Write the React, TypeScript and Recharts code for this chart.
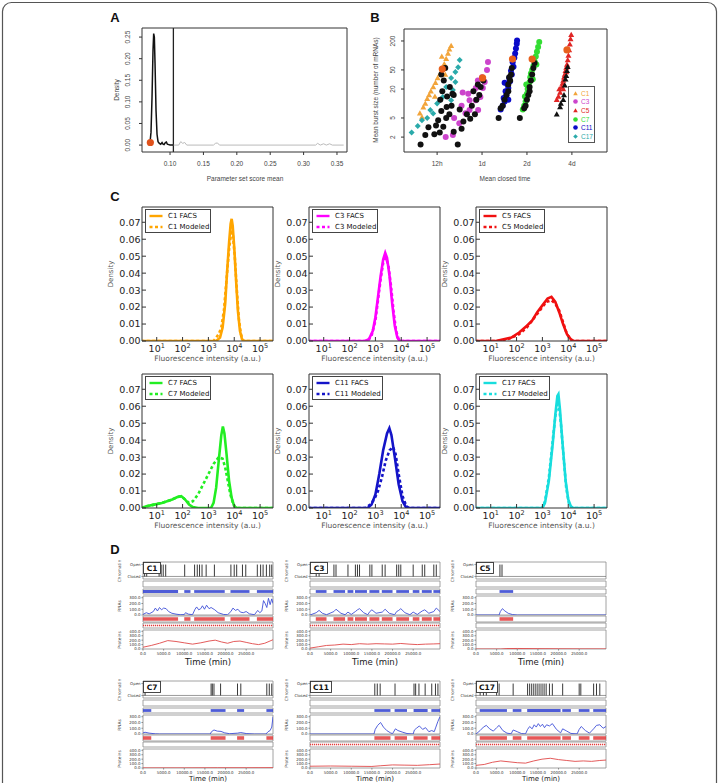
import React from "react";
import {
  ComposedChart,
  ScatterChart,
  Scatter,
  Line,
  XAxis,
  YAxis,
  ReferenceLine,
  ReferenceArea,
  ReferenceDot,
} from "recharts";

const SANS = "'Liberation Sans', Arial, Helvetica, sans-serif";
const DEJAVU = "'DejaVu Sans', sans-serif";

// ---------- panel A: parameter set score density
const scoreMain = [
  [0.068, 0.001], [0.07, 0.006], [0.0715, 0.03], [0.073, 0.11], [0.0745, 0.22],
  [0.0755, 0.258], [0.0765, 0.25], [0.0775, 0.19], [0.079, 0.08], [0.0805, 0.025],
  [0.082, 0.008], [0.084, 0.004], [0.086, 0.002], [0.088, 0.006], [0.0895, 0.002],
  [0.091, 0.001], [0.093, 0.006], [0.0945, 0.007], [0.096, 0.002], [0.098, 0.001],
  [0.1, 0], [0.105, 0],
];
const scoreTail = [
  [0.105, 0], [0.113, 0], [0.116, 0.008], [0.119, 0.004], [0.122, 0.006], [0.125, 0],
  [0.165, 0], [0.168, 0.004], [0.171, 0.005], [0.174, 0], [0.318, 0], [0.321, 0.004],
  [0.325, 0], [0.33, 0.003], [0.334, 0], [0.339, 0.003], [0.343, 0], [0.36, 0],
];
const scoreCutoff = 0.105;
const bestScore = [0.0705, 0.006];
const scoreTicks = [0.1, 0.15, 0.2, 0.25, 0.3, 0.35];
const scoreDensityTicks = [0, 0.05, 0.1, 0.15, 0.2, 0.25];

// ---------- panel B: mean closed time (hours) vs mean burst size
const bC1 = [[9.2, 6.3], [9.7, 8.4], [9.5, 5.2], [10, 10], [10.3, 12.5], [10.6, 15], [10.9, 18], [11.3, 22], [11.7, 27], [12.1, 34], [12.6, 42], [13, 52], [13.4, 66], [13.8, 85], [14.2, 110], [14.5, 135], [13.6, 40], [11.6, 14], [12.9, 95], [14.9, 160]];
const bC3 = [[13.7, 2], [15.3, 2.2], [15.6, 5], [16.9, 3.9], [18.6, 6.3], [19.8, 7.3], [17.8, 17], [19.4, 16], [21.8, 11.7], [21.8, 21], [22.6, 7.3], [23.4, 13.6], [24.3, 21], [25, 28], [25.9, 50], [26.3, 73], [24, 35], [19.8, 11.7], [17.5, 9], [22.5, 30]];
const bC5 = [[76, 12], [78, 14], [80, 17], [79, 20], [82, 22], [83, 26], [84, 30], [85, 35], [86, 40], [87, 48], [88, 56], [89, 65], [90, 80], [91, 100], [92, 130], [93, 170], [94, 220], [95, 270], [84, 20], [88, 45]];
const bC7 = [[45, 7.5], [46, 9], [47, 11], [46.5, 14], [48, 16], [48.5, 20], [49, 24], [50, 28], [50.5, 35], [51, 42], [52, 50], [53, 60], [54, 75], [55, 95], [56, 120], [57, 150], [58, 190], [47.5, 25], [52.5, 32], [55.5, 65]];
const bC11 = [[32, 7.5], [33, 9], [34, 11], [33.5, 13], [35, 15], [34.5, 18], [36, 21], [35.5, 25], [37, 29], [36.5, 34], [38, 40], [37.5, 48], [39, 58], [38.5, 72], [39.5, 90], [40, 110], [40.5, 140], [41, 175], [41.2, 205], [36, 12], [34, 27]];
const bC17 = [[8.1, 2.5], [8.9, 3.4], [9.5, 4.5], [10.3, 5], [10.8, 7.3], [12, 10], [12.6, 11.7], [13.1, 13.6], [14.9, 11.7], [15.3, 19], [15.9, 28], [14.9, 34], [15.9, 45], [16.6, 57], [17, 80], [13.8, 22], [11.3, 6.2]];
const bBlack = [
  [9.3, 1.4], [10, 2.2], [11.5, 2.3], [12.5, 2.5], [10.5, 3.2], [11.8, 3.5], [13.2, 3.3], [12.2, 4.5], [13.8, 5], [14.5, 6],
  [12.8, 7], [13.9, 8.5], [15, 9], [12.6, 12], [14, 14], [15.5, 15], [13, 18], [14.6, 22], [13.3, 30], [12.8, 40], [13.6, 55],
  [15.2, 16], [16.5, 1.4], [15.5, 2.6], [17.5, 3], [18, 4.2], [20, 4.8], [21.5, 6], [20.5, 9], [22, 12], [23, 15], [21, 18],
  [23.5, 22], [24.5, 30], [22.5, 25], [19, 6], [17, 7.5],
  [31, 5], [32, 8], [33, 9], [34, 12], [35, 15], [36, 18], [36, 25], [37, 30], [37.5, 40], [38, 55], [36.5, 35],
  [43, 5], [46, 8], [47, 9], [48, 12], [49, 15], [50, 18], [50, 22], [51, 30], [52, 40], [53, 55], [54, 70],
];
const bBlackTri = [[76, 6], [80, 8.5], [81, 10], [84, 12], [85, 15], [86, 24], [87, 32], [88, 38], [89, 48], [90, 58]];
const bBest = [[13, 52], [24.2, 34], [38.4, 84], [52, 84], [89, 130]];
const closedTicks = [12, 24, 48, 96];
const closedLabels = ["12h", "1d", "2d", "4d"];
const burstTicks = [2, 5, 20, 50, 200];

// ---------- panel C: log10 fluorescence vs density
const c1Facs = [[0.4, 0], [3.3, 0], [3.45, 0.002], [3.55, 0.008], [3.65, 0.022], [3.72, 0.04], [3.8, 0.058], [3.86, 0.069], [3.9, 0.072], [3.94, 0.068], [4.0, 0.055], [4.07, 0.036], [4.14, 0.018], [4.22, 0.006], [4.3, 0.001], [4.4, 0], [5.5, 0]];
const c1Model = [[0.4, 0], [3.2, 0], [3.3, 0.002], [3.4, 0.004], [3.5, 0.008], [3.6, 0.018], [3.7, 0.036], [3.8, 0.054], [3.88, 0.064], [3.95, 0.062], [4.02, 0.05], [4.1, 0.03], [4.18, 0.013], [4.26, 0.004], [4.35, 0], [5.5, 0]];
const c3Facs = [[0.4, 0], [2.6, 0], [2.75, 0.001], [2.9, 0.006], [3.0, 0.014], [3.1, 0.026], [3.2, 0.038], [3.3, 0.048], [3.38, 0.052], [3.45, 0.049], [3.55, 0.038], [3.65, 0.022], [3.75, 0.009], [3.85, 0.002], [3.95, 0], [5.5, 0]];
const c3Model = [[0.4, 0], [2.7, 0], [2.85, 0.003], [3.0, 0.012], [3.1, 0.024], [3.2, 0.036], [3.3, 0.046], [3.4, 0.049], [3.5, 0.045], [3.6, 0.033], [3.7, 0.018], [3.8, 0.006], [3.9, 0.001], [4.0, 0], [5.5, 0]];
const c5Facs = [[0.4, 0], [1.2, 0], [1.5, 0.001], [1.8, 0.002], [2.1, 0.005], [2.4, 0.009], [2.6, 0.012], [2.8, 0.017], [3.0, 0.021], [3.2, 0.025], [3.35, 0.026], [3.5, 0.023], [3.65, 0.017], [3.8, 0.01], [3.95, 0.004], [4.1, 0.001], [4.2, 0], [5.5, 0]];
const c5Model = [[0.4, 0], [1.5, 0], [1.8, 0.002], [2.1, 0.004], [2.4, 0.008], [2.7, 0.014], [2.95, 0.019], [3.15, 0.023], [3.35, 0.024], [3.5, 0.022], [3.65, 0.018], [3.8, 0.011], [3.95, 0.004], [4.1, 0.001], [4.2, 0], [5.5, 0]];
const c7Facs = [[0.4, 0], [0.6, 0.001], [0.9, 0.002], [1.2, 0.003], [1.4, 0.004], [1.6, 0.005], [1.8, 0.0065], [1.95, 0.007], [2.1, 0.005], [2.25, 0.002], [2.4, 0.0005], [2.6, 0], [3.1, 0], [3.2, 0.003], [3.3, 0.012], [3.4, 0.028], [3.5, 0.043], [3.56, 0.048], [3.62, 0.044], [3.7, 0.032], [3.8, 0.016], [3.9, 0.006], [4.0, 0.001], [4.1, 0], [5.5, 0]];
const c7Model = [[0.4, 0], [0.6, 0.001], [0.9, 0.002], [1.2, 0.003], [1.4, 0.004], [1.6, 0.005], [1.8, 0.0065], [1.95, 0.007], [2.1, 0.005], [2.25, 0.003], [2.4, 0.004], [2.6, 0.008], [2.8, 0.014], [3.0, 0.02], [3.2, 0.026], [3.4, 0.03], [3.55, 0.029], [3.65, 0.024], [3.75, 0.016], [3.85, 0.008], [3.95, 0.003], [4.05, 0], [5.5, 0]];
const c11Facs = [[0.4, 0], [2.7, 0], [2.85, 0.002], [3.0, 0.008], [3.15, 0.02], [3.3, 0.034], [3.45, 0.044], [3.54, 0.047], [3.62, 0.043], [3.75, 0.03], [3.9, 0.014], [4.05, 0.004], [4.2, 0], [5.5, 0]];
const c11Model = [[0.4, 0], [2.6, 0], [2.8, 0.002], [2.95, 0.005], [3.1, 0.01], [3.25, 0.018], [3.4, 0.028], [3.55, 0.034], [3.68, 0.036], [3.78, 0.032], [3.9, 0.02], [4.05, 0.007], [4.2, 0.001], [4.3, 0], [5.5, 0]];
const c17Facs = [[0.4, 0], [3.0, 0], [3.1, 0.003], [3.25, 0.016], [3.4, 0.038], [3.5, 0.055], [3.58, 0.066], [3.62, 0.067], [3.68, 0.058], [3.78, 0.038], [3.9, 0.016], [4.0, 0.005], [4.1, 0.001], [4.2, 0], [5.5, 0]];
const c17Model = [[0.4, 0], [3.0, 0], [3.1, 0.004], [3.25, 0.018], [3.4, 0.04], [3.5, 0.054], [3.58, 0.061], [3.64, 0.06], [3.72, 0.049], [3.82, 0.03], [3.92, 0.012], [4.02, 0.003], [4.15, 0], [5.5, 0]];
const fluoTicks = [1, 2, 3, 4, 5];
const fluoDensityTicks = [0, 0.01, 0.02, 0.03, 0.04, 0.05, 0.06, 0.07];

// ---------- panel D: simulated traces (time in min)
const d1Open = [400, 900, 3900, 4400, 4900, 5500, 10100, 12500, 13150, 13700, 14300, 15300, 17300, 21300, 22100, 22700, 24100, 24900, 27700, 28500, 29100, 29900, 30700, 31200];
const d1Bursts = [[0, 8500], [10000, 11500], [12400, 19800], [21200, 25800], [27600, 31500]];
const d1Rna = [[0, 10], [800, 40], [1500, 20], [2500, 60], [3000, 120], [3500, 70], [4000, 130], [4500, 90], [5000, 120], [5600, 110], [6200, 60], [7000, 30], [8000, 15], [9000, 5], [10000, 8], [10300, 40], [11000, 15], [12000, 5], [12600, 100], [13000, 140], [13500, 90], [14000, 110], [14400, 160], [14900, 100], [15400, 170], [16000, 110], [16500, 130], [17400, 90], [18200, 40], [19500, 10], [20500, 5], [21300, 60], [21800, 120], [22400, 80], [23000, 100], [23600, 50], [24300, 40], [25000, 60], [25800, 20], [27000, 5], [27800, 80], [28300, 40], [28800, 70], [29200, 250], [29600, 200], [30000, 130], [30400, 290], [30800, 180], [31200, 280], [31500, 200]];
const d1Prot = [[0, 40], [2000, 80], [4000, 130], [6000, 190], [8000, 170], [10000, 140], [12000, 110], [14000, 140], [16000, 180], [17500, 200], [19000, 160], [20500, 130], [22000, 170], [23500, 180], [25000, 150], [26500, 120], [28000, 100], [29500, 130], [31500, 210]];

const d3Open = [1500, 2200, 5800, 6300, 9200, 11000, 11500, 12000, 14500, 15000, 17500, 18200, 21000, 21500, 22000, 25000, 27200, 27800, 30000, 30600];
const d3Bursts = [[1400, 4000], [5700, 8500], [9100, 10500], [10900, 13800], [14400, 16800], [17400, 20000], [20900, 24000], [24900, 26500], [27100, 29500], [29900, 31500]];
const d3Rna = [[0, 0], [1500, 40], [2200, 80], [3000, 30], [4000, 5], [5800, 60], [6300, 100], [7500, 30], [8500, 5], [9200, 50], [10000, 10], [11000, 60], [11500, 90], [12000, 110], [13000, 40], [14000, 5], [14500, 60], [15000, 90], [16000, 30], [17500, 50], [18200, 100], [19200, 30], [20500, 5], [21000, 60], [21500, 80], [22000, 110], [23000, 40], [24200, 5], [25000, 50], [26000, 10], [27200, 70], [27800, 90], [28800, 30], [30000, 60], [30600, 120], [31500, 60]];
const d3Prot = [[0, 20], [2000, 50], [4000, 80], [6000, 90], [8000, 110], [10000, 100], [12000, 120], [14000, 110], [16000, 120], [18000, 115], [20000, 110], [22000, 125], [24000, 110], [26000, 100], [28000, 110], [30000, 115], [31500, 120]];

const d5Open = [5800, 6300];
const d5Bursts = [[5700, 9000]];
const d5Rna = [[0, 0], [5600, 0], [5900, 60], [6400, 110], [7000, 70], [7800, 30], [8800, 8], [10000, 0], [31500, 0]];
const d5Prot = [[0, 0], [6000, 0], [7500, 10], [10000, 12], [15000, 8], [20000, 5], [25000, 3], [31500, 2]];
const d5ProtMarks = [6500, 7500, 9000, 12000];

const d7Open = [500, 16500, 16800, 17200, 18800, 22900, 23700, 30000, 30600, 31200];
const d7Bursts = [[0, 2000], [16400, 20000], [22800, 24500], [29900, 31500]];
const d7Rna = [[0, 20], [500, 30], [1500, 15], [3000, 3], [4000, 0], [16300, 0], [16600, 40], [17200, 70], [18000, 50], [18900, 45], [19800, 20], [21000, 5], [22900, 15], [23700, 25], [25000, 8], [27000, 0], [29800, 0], [30300, 40], [30800, 60], [31200, 120], [31500, 300]];
const d7Prot = [[0, 2], [10000, 3], [18000, 6], [25000, 6], [31500, 8]];
const d7ProtMarks = [1000, 4000, 17500, 19000, 21000, 23500, 26000, 28500, 31000];

const d11Open = [15700, 16300, 17000, 20600, 25200, 25600, 26400, 27900, 29500, 30400, 31000];
const d11Bursts = [[15600, 19500], [20500, 23500], [25100, 28500], [29400, 31500]];
const d11Rna = [[0, 0], [15500, 0], [15800, 80], [16400, 150], [17100, 200], [17800, 120], [18600, 60], [19500, 20], [20000, 5], [20700, 90], [21300, 60], [22500, 30], [23500, 8], [25000, 0], [25300, 70], [25800, 100], [26500, 140], [27300, 80], [28000, 110], [28800, 40], [29500, 60], [30100, 40], [30500, 120], [31000, 220], [31500, 300]];
const d11Prot = [[0, 40], [5000, 45], [10000, 40], [15000, 35], [17000, 50], [20000, 70], [23000, 65], [26000, 60], [29000, 75], [31500, 90]];

const d17Open = [1000, 1800, 2500, 5000, 5600, 9000, 12500, 13000, 13500, 14000, 14500, 15000, 15500, 16000, 16500, 17000, 17800, 18500, 21000, 25000, 25400, 28500, 29200, 30000];
const d17Bursts = [[900, 7500], [8900, 11000], [12400, 20500], [20900, 23000], [24900, 27500], [28400, 31500]];
const d17Rna = [[0, 0], [1000, 60], [1800, 120], [2500, 150], [3300, 90], [4200, 50], [5000, 110], [5600, 150], [6500, 60], [7500, 15], [8500, 3], [9000, 70], [10000, 40], [11000, 8], [12000, 2], [12500, 80], [13000, 130], [13600, 90], [14100, 160], [14600, 120], [15100, 180], [15600, 130], [16100, 170], [16600, 110], [17100, 160], [17800, 140], [18500, 180], [19500, 80], [20500, 20], [21000, 90], [22000, 50], [23000, 10], [24500, 2], [25000, 80], [25500, 130], [26500, 60], [27500, 15], [28500, 90], [29200, 150], [30000, 160], [30800, 100], [31500, 130]];
const d17Prot = [[0, 60], [2000, 80], [4000, 130], [6000, 160], [8000, 140], [10000, 120], [12000, 110], [14000, 160], [16000, 200], [18000, 220], [20000, 190], [22000, 170], [24000, 150], [26000, 160], [28000, 150], [30000, 170], [31500, 180]];

const TMAX = 31500;
const timeTicks = [0, 5000, 10000, 15000, 20000, 25000];
const rnaTicks = [0, 100, 200, 300];
const protTicks = [0, 100, 200, 300, 400];

const cellNames = ["C1", "C3", "C5", "C7", "C11", "C17"];
const cellColors = ["#FFA500", "#FF00FF", "#F01010", "#22EE22", "#1414C8", "#18DDDD"];
const bColors = ["#F2A43A", "#CC44CC", "#E02525", "#33DD33", "#0A0AC8", "#2AAAAA"];

const toXY = (a: number[][]) => a.map(([x, y]) => ({ x, y }));

// ---------- shared bits
function marker(kind: string, color: string, r: number) {
  return (p: any) => {
    const { cx, cy } = p;
    if (cx == null || cy == null) return <g />;
    if (kind === "tri")
      return <polygon points={`${cx},${cy - r} ${cx - r},${cy + r * 0.75} ${cx + r},${cy + r * 0.75}`} fill={color} />;
    if (kind === "dia")
      return <polygon points={`${cx},${cy - r} ${cx + r},${cy} ${cx},${cy + r} ${cx - r},${cy}`} fill={color} />;
    if (kind === "cross")
      return (
        <g stroke={color} strokeWidth={0.6}>
          <line x1={cx - r} y1={cy} x2={cx + r} y2={cy} />
          <line x1={cx} y1={cy - r} x2={cx} y2={cy + r} />
        </g>
      );
    return <circle cx={cx} cy={cy} r={r} fill={color} />;
  };
}

const rBottomTick = (fmt: (v: number) => string) => (p: any) => (
  <text x={p.x} y={p.y} dy={6} textAnchor="middle" fontSize={6.5} fontFamily={SANS} fill="#444">
    {fmt(p.payload.value)}
  </text>
);
const rLeftTick = (fmt: (v: number) => string) => (p: any) => (
  <text x={p.x} y={p.y} transform={`rotate(-90 ${p.x} ${p.y})`} textAnchor="middle" fontSize={6.5} fontFamily={SANS} fill="#444">
    {fmt(p.payload.value)}
  </text>
);

function PanelA() {
  const bx = 142, by = 28, bw = 205, bh = 124;
  const L = 24, T = 4, R = 4, B = 22;
  return (
    <div style={{ position: "absolute", left: bx - L, top: by - T }}>
      <ComposedChart width={L + bw + R} height={T + bh + B} margin={{ top: T - 1, right: R - 1, bottom: 0, left: 0 }}>
        <XAxis type="number" dataKey="x" domain={[0.058, 0.365]} allowDataOverflow ticks={scoreTicks} interval={0}
          height={B} tickSize={3} tickMargin={4.5} tick={rBottomTick((v) => v.toFixed(2))} stroke="#333" />
        <XAxis xAxisId="top" orientation="top" type="number" domain={[0, 1]} height={1} tick={false} tickLine={false} stroke="#333" />
        <YAxis type="number" domain={[-0.016, 0.271]} allowDataOverflow ticks={scoreDensityTicks} interval={0}
          width={L} tickSize={3} tickMargin={8.5} tick={rLeftTick((v) => v.toFixed(2))} stroke="#333" />
        <YAxis yAxisId="right" orientation="right" type="number" domain={[0, 1]} width={1} tick={false} tickLine={false} stroke="#333" />
        <ReferenceLine x={scoreCutoff} stroke="#222" strokeWidth={1.3} />
        <Line data={toXY(scoreTail)} dataKey="y" stroke="#bbb" strokeWidth={1} dot={false} isAnimationActive={false} />
        <Line data={toXY(scoreMain)} dataKey="y" stroke="#111" strokeWidth={1.5} dot={false} isAnimationActive={false} />
        <ReferenceDot x={bestScore[0]} y={bestScore[1]} r={3.6} fill="#E0521C" stroke="none" />
      </ComposedChart>
    </div>
  );
}

const bSeries = [
  { name: "C1", data: bC1, kind: "tri" },
  { name: "C3", data: bC3, kind: "circle" },
  { name: "C5", data: bC5, kind: "tri" },
  { name: "C7", data: bC7, kind: "circle" },
  { name: "C11", data: bC11, kind: "circle" },
  { name: "C17", data: bC17, kind: "dia" },
];

function PanelB() {
  const bx = 404, by = 29, bw = 203, bh = 123;
  const L = 20, T = 4, R = 4, B = 22;
  return (
    <div style={{ position: "absolute", left: bx - L, top: by - T }}>
      <ScatterChart width={L + bw + R} height={T + bh + B} margin={{ top: T - 1, right: R - 1, bottom: 0, left: 0 }}>
        <XAxis type="number" dataKey="x" scale="log" domain={[7.2, 165]} allowDataOverflow ticks={closedTicks} interval={0}
          height={B} tickSize={3} tickMargin={4.5} tick={rBottomTick((v) => closedLabels[closedTicks.indexOf(v)])} stroke="#333" />
        <XAxis xAxisId="top" orientation="top" type="number" domain={[0, 1]} height={1} tick={false} tickLine={false} stroke="#333" />
        <YAxis type="number" dataKey="y" scale="log" domain={[0.98, 355]} allowDataOverflow ticks={burstTicks} interval={0}
          width={L} tickSize={3} tickMargin={5.5} tick={rLeftTick((v) => String(v))} stroke="#333" />
        <YAxis yAxisId="right" orientation="right" type="number" domain={[0, 1]} width={1} tick={false} tickLine={false} stroke="#333" />
        {bSeries.map((s, i) => (
          <Scatter key={s.name} name={s.name} data={toXY(s.data)} shape={marker(s.kind, bColors[i], 3)} isAnimationActive={false} />
        ))}
        <Scatter data={toXY(bBlack)} shape={marker("circle", "#111", 3)} isAnimationActive={false} />
        <Scatter data={toXY(bBlackTri)} shape={marker("tri", "#111", 3)} isAnimationActive={false} />
        <Scatter data={toXY(bBest)} shape={marker("circle", "#E8601C", 3.6)} isAnimationActive={false} />
      </ScatterChart>
      <div style={{ position: "absolute", left: 568 - (bx - L), top: 86 - (by - T), width: 27, height: 57, border: "1px solid #555", background: "#fff", boxSizing: "border-box", padding: "2px 0 0 3px" }}>
        {bSeries.map((s, i) => (
          <div key={s.name} style={{ display: "flex", alignItems: "center", height: 8.6, fontFamily: SANS, fontSize: 6.5, color: bColors[i], whiteSpace: "nowrap" }}>
            <svg width={7} height={7} style={{ marginRight: 2 }}>{marker(s.kind, bColors[i], 2.3)({ cx: 3.5, cy: 3.5 })}</svg>
            {s.name}
          </div>
        ))}
      </div>
    </div>
  );
}

const cLeftTick = (p: any) => (
  <text x={p.x} y={p.y} dy={3.4} textAnchor="end" fontSize={9.5} fontFamily={DEJAVU} fill="#222">
    {p.payload.value.toFixed(2)}
  </text>
);
const cBottomTick = (p: any) => (
  <text x={p.x} y={p.y} dy={9} textAnchor="middle" fontSize={9.5} fontFamily={DEJAVU} fill="#222">
    10<tspan dy={-4.5} fontSize={6.5}>{p.payload.value}</tspan>
  </text>
);

const densityPanels = [
  { facs: c1Facs, model: c1Model },
  { facs: c3Facs, model: c3Model },
  { facs: c5Facs, model: c5Model },
  { facs: c7Facs, model: c7Model },
  { facs: c11Facs, model: c11Model },
  { facs: c17Facs, model: c17Model },
];
const C_COLS = [142, 309, 476];
const C_ROWS = [207, 374];
const C_W = 131;
const C_H = 134;

function DensityPanel({ i }: { i: number }) {
  const bx = C_COLS[i % 3], by = C_ROWS[Math.floor(i / 3)];
  const L = 34, T = 4, R = 4, B = 22;
  const color = cellColors[i];
  const name = cellNames[i];
  const p = densityPanels[i];
  const wide = name.length > 2;
  return (
    <div style={{ position: "absolute", left: bx - L, top: by - T }}>
      <ComposedChart width={L + C_W + R} height={T + C_H + B} margin={{ top: T - 1, right: R - 1, bottom: 0, left: 0 }}>
        <XAxis type="number" dataKey="x" domain={[0.43, 5.5]} allowDataOverflow ticks={fluoTicks} interval={0}
          height={B} tickSize={-4} tickMargin={6} tick={cBottomTick} stroke="#333" />
        <XAxis xAxisId="top" orientation="top" type="number" domain={[0.43, 5.5]} allowDataOverflow ticks={fluoTicks} interval={0}
          height={1} tickSize={-4} tick={false} stroke="#333" />
        <YAxis type="number" domain={[0, 0.079]} allowDataOverflow ticks={fluoDensityTicks} interval={0}
          width={L} tickSize={-4} tickMargin={5.5} tick={cLeftTick} stroke="#333" />
        <YAxis yAxisId="right" orientation="right" type="number" domain={[0, 0.079]} allowDataOverflow ticks={fluoDensityTicks} interval={0}
          width={1} tickSize={-4} tick={false} stroke="#333" />
        <Line data={toXY(p.facs)} dataKey="y" stroke={color} strokeWidth={2.6} dot={false} isAnimationActive={false} />
        <Line data={toXY(p.model)} dataKey="y" stroke={color} strokeWidth={2.6} strokeDasharray="3 2.5" dot={false} isAnimationActive={false} />
      </ComposedChart>
      <div style={{ position: "absolute", left: L + 3, top: T + 2, width: wide ? 71 : 66, height: 24, border: "1px solid #444", background: "#fff", boxSizing: "border-box", padding: "1px 0 0 3px", fontFamily: DEJAVU, fontSize: 7, color: "#111", whiteSpace: "nowrap" }}>
        {[`${name} FACS`, `${name} Modeled`].map((t, k) => (
          <div key={t} style={{ display: "flex", alignItems: "center", height: 10.5 }}>
            <svg width={14} height={6} style={{ marginRight: 5, flexShrink: 0 }}>
              <line x1={0.5} y1={3} x2={13.5} y2={3} stroke={color} strokeWidth={2.4} strokeDasharray={k ? "3 2.5" : undefined} />
            </svg>
            {t}
          </div>
        ))}
      </div>
    </div>
  );
}

// ---------- panel D
const dPanels = [
  { open: d1Open, bursts: d1Bursts, rna: d1Rna, prot: d1Prot, marks: null },
  { open: d3Open, bursts: d3Bursts, rna: d3Rna, prot: d3Prot, marks: null },
  { open: d5Open, bursts: d5Bursts, rna: d5Rna, prot: d5Prot, marks: d5ProtMarks },
  { open: d7Open, bursts: d7Bursts, rna: d7Rna, prot: d7Prot, marks: d7ProtMarks },
  { open: d11Open, bursts: d11Bursts, rna: d11Rna, prot: d11Prot, marks: null },
  { open: d17Open, bursts: d17Bursts, rna: d17Rna, prot: d17Prot, marks: null },
];
const D_COLS = [143, 310, 476];
const D_ROWS = [562, 681];
const D_W = 130;
const PADL = 34;
const BLUE = "#2F3FD0";
const RED = "#E23B3B";

const dTimeTick = (p: any) => (
  <text x={p.x} y={p.y} dy={3.6} textAnchor="middle" fontSize={3.9} fontFamily={DEJAVU} fill="#333">
    {p.payload.value.toFixed(1)}
  </text>
);
const dYTick = (fmt: (v: number) => string) => (p: any) => (
  <text x={p.x} y={p.y} dy={1.4} textAnchor="end" fontSize={3.9} fontFamily={DEJAVU} fill="#333">
    {fmt(p.payload.value)}
  </text>
);

function Track({ bx, top, h, yDomain, yTicks, yFmt, showX, children }: any) {
  const xh = showX ? 7 : 0;
  return (
    <div style={{ position: "absolute", left: bx - PADL, top: top - 1 }}>
      <ComposedChart width={PADL + D_W + 3} height={h + xh + 2} margin={{ top: 1, right: 3, bottom: 1, left: 0 }}>
        <XAxis type="number" dataKey="x" domain={[0, TMAX]} allowDataOverflow hide={!showX} height={xh} ticks={timeTicks}
          interval={0} tickSize={1.5} tickMargin={0.5} tick={dTimeTick} axisLine={false} stroke="#888" />
        <YAxis type="number" domain={yDomain} allowDataOverflow width={PADL} ticks={yTicks || [0]} interval={0}
          tickSize={1.5} tickMargin={1} tick={yTicks ? dYTick(yFmt) : false} tickLine={!!yTicks} axisLine={false} stroke="#888" />
        <ReferenceArea x1={0} x2={TMAX} y1={yDomain[0]} y2={yDomain[1]} fill="none" stroke="#8a8a8a" strokeWidth={0.8} ifOverflow="visible" />
        {children}
      </ComposedChart>
    </div>
  );
}

function DPanel({ i }: { i: number }) {
  const bx = D_COLS[i % 3], ty = D_ROWS[Math.floor(i / 3)];
  const d = dPanels[i];
  const dot = (t: number) => ({ x: t, y: 0.5 });
  return (
    <>
      <Track bx={bx} top={ty} h={17} yDomain={[0, 1]} yTicks={[0.15, 0.85]} yFmt={(v: number) => (v > 0.5 ? "Open" : "Closed")}>
        <ReferenceLine y={0.15} stroke="#555" strokeWidth={0.6} />
        {d.open.map((t) => (
          <ReferenceLine key={t} segment={[{ x: t, y: 0.15 }, { x: t, y: 0.85 }]} stroke="#222" strokeWidth={0.9} />
        ))}
      </Track>
      <Track bx={bx} top={ty + 19} h={6} yDomain={[0, 1]}>
        <Scatter data={d.open.map(dot)} shape={marker("cross", BLUE, 1.3)} isAnimationActive={false} />
      </Track>
      <Track bx={bx} top={ty + 27} h={5} yDomain={[0, 1]}>
        {d.bursts.map(([a, b]) => (
          <ReferenceArea key={a} x1={a} x2={b} y1={0.22} y2={0.78} fill={BLUE} fillOpacity={0.85} stroke="none" />
        ))}
      </Track>
      <Track bx={bx} top={ty + 34} h={19} yDomain={[0, 330]} yTicks={rnaTicks} yFmt={(v: number) => v.toFixed(1)}>
        <Line data={toXY(d.rna)} dataKey="y" stroke="#4050D8" strokeWidth={0.9} dot={false} isAnimationActive={false} />
      </Track>
      <Track bx={bx} top={ty + 54} h={6} yDomain={[0, 1]}>
        {d.bursts.map(([a, b]) => (
          <ReferenceArea key={a} x1={a} x2={b} y1={0.2} y2={0.8} fill={RED} fillOpacity={0.85} stroke="none" />
        ))}
      </Track>
      <Track bx={bx} top={ty + 61} h={5} yDomain={[0, 1]}>
        {d.marks ? (
          <Scatter data={d.marks.map(dot)} shape={marker("cross", RED, 1.2)} isAnimationActive={false} />
        ) : (
          <ReferenceLine y={0.5} stroke={RED} strokeWidth={1.6} strokeDasharray="1.2 0.8" />
        )}
      </Track>
      <Track bx={bx} top={ty + 68} h={19} yDomain={[0, 430]} yTicks={protTicks} yFmt={(v: number) => v.toFixed(1)} showX>
        <Line data={toXY(d.prot)} dataKey="y" stroke="#E04848" strokeWidth={0.9} dot={false} isAnimationActive={false} />
      </Track>
    </>
  );
}

export default function App() {
  const titles = (x: number, y: number, t: string, size: number, font: string, rot = false, fill = "#444") => (
    <text key={t + x + y} x={x} y={y} fontSize={size} fontFamily={font} fill={fill} textAnchor="middle"
      transform={rot ? `rotate(-90 ${x} ${y})` : undefined}>{t}</text>
  );
  return (
    <div style={{ position: "absolute", left: 0, top: 0, width: 720, height: 783, background: "#fff", overflow: "hidden" }}>
      <svg width={720} height={783} style={{ position: "absolute", left: 0, top: 0 }}>
        <rect x={2.5} y={2.5} width={714} height={830} rx={9} fill="none" stroke="#555" strokeWidth={1.2} />
        {[["A", 115, 22], ["B", 375, 22], ["C", 115, 201], ["D", 115, 554]].map(([t, x, y]) => (
          <text key={t as string} x={x as number} y={y as number} fontSize={13} fontWeight="bold" fontFamily={SANS} fill="#111" textAnchor="middle">{t}</text>
        ))}
        {titles(119, 90, "Density", 6.5, SANS, true)}
        {titles(245, 181, "Parameter set score mean", 6.5, SANS)}
        {titles(378, 90, "Mean burst size (number of mRNAs)", 6.5, SANS, true)}
        {titles(505, 181, "Mean closed time", 6.5, SANS)}
        {densityPanels.map((_, i) => {
          const bx = C_COLS[i % 3], by = C_ROWS[Math.floor(i / 3)];
          return (
            <g key={i}>
              {titles(bx - 29, by + C_H / 2, "Density", 7, DEJAVU, true, "#555")}
              {titles(bx + C_W / 2, by + C_H + 20, "Fluorescence intensity (a.u.)", 7.5, DEJAVU, false, "#555")}
            </g>
          );
        })}
        {dPanels.map((_, i) => {
          const bx = D_COLS[i % 3], ty = D_ROWS[Math.floor(i / 3)];
          return (
            <g key={i}>
              {titles(bx - 22, ty + 9, "Chromatin", 4.3, DEJAVU, true)}
              {titles(bx - 22, ty + 44, "RNAs", 4.3, DEJAVU, true)}
              {titles(bx - 22, ty + 78, "Proteins", 4.3, DEJAVU, true)}
              {titles(bx + D_W / 2, i < 3 ? ty + 103 : ty + 100, "Time (min)", i < 3 ? 8.5 : 7, DEJAVU, false, "#222")}
            </g>
          );
        })}
      </svg>
      <PanelA />
      <PanelB />
      {densityPanels.map((_, i) => <DensityPanel key={i} i={i} />)}
      {dPanels.map((_, i) => <DPanel key={i} i={i} />)}
      <svg width={720} height={783} style={{ position: "absolute", left: 0, top: 0, pointerEvents: "none" }}>
        {dPanels.map((_, i) => {
          const bx = D_COLS[i % 3], ty = D_ROWS[Math.floor(i / 3)];
          const w = cellNames[i].length > 2 ? 21 : 17;
          return (
            <g key={i}>
              <rect x={bx + 0.5} y={ty + 0.5} width={w} height={11} fill="#fff" stroke="#333" strokeWidth={0.9} />
              <text x={bx + 0.5 + w / 2} y={ty + 9} fontSize={7.5} fontWeight="bold" fontFamily={DEJAVU} fill="#111" textAnchor="middle">{cellNames[i]}</text>
            </g>
          );
        })}
      </svg>
    </div>
  );
}
